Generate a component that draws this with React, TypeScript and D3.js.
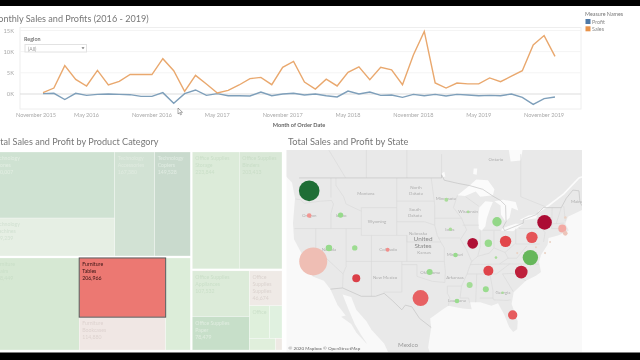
import React from "react";
import * as d3 from "d3";

const FONT = "Lato, 'Open Sans', sans-serif";
const monthIndex = d3.range(48);
const sales = [315,1400,6700,3460,1890,5590,2130,2990,4640,4600,4600,8340,5500,630,4400,2360,240,870,2130,3620,3930,2200,6300,7700,2830,1180,3500,1900,5100,6400,3400,6300,5700,2200,9200,14800,2600,1400,2600,2400,2400,3800,2900,4200,5500,11600,13800,8900];
const profit = [80,160,-1300,160,-320,-80,0,-80,-160,-550,-550,320,-2200,80,950,-320,80,-400,-400,-470,470,-400,0,160,-240,0,-400,-700,700,0,470,-320,-240,-790,-80,-400,-80,-470,-80,-240,-400,-320,-400,0,-790,-2440,-1100,-700];
const yTicks = [0,5000,10000,15000];
const xTickMonths = [-2,4,10,16,22,28,34,40,46];
const xTickLabels = ["November 2015","May 2016","November 2016","May 2017","November 2017","May 2018","November 2018","May 2019","November 2019"];
const legendNames = ["Profit","Sales"];
const legendColors = ["#4e79a7","#e8934a"];
const lineColors = ["#7e9fba","#e9a86e"];

const leafNames = ["Phones","Machines","Accessories","Copiers","Chairs","Tables","Bookcases","Furnishings","Storage","Binders","Appliances","Paper","Supplies","Art","Envelopes","Labels","Fasteners"];
const leafSales = [330007,189239,167380,149528,328449,206966,114880,91705,223844,203413,107532,78479,46674,27119,16476,12486,3024];
const leafFill = ["#cfe2d2","#e6efe4","#d2e2d4","#c9dacd","#d6e8d3","#ec7872","#f0e7e4","#dcedd9","#dcebd9","#d9e8d7","#dcebd9","#c7dfc9","#efeae6","#dff0dc","#e0f1e0","#e0efdc","#eee9e4"];
const leafInk = ["#e3eee3","#d2e1d2","#e0ebe0","#e1ece3","#c9dec7","#3a1414","#ddd2cf","#dcedd9","#cadfc8","#c9ddc7","#cadfc8","#e0ede0","#dbd3cf","#cce0ca","#e0f1e0","#e0efdc","#eee9e4"];
const leafLines = [
  ["Technology","Phones","330,007"],["Technology","Machines","189,239"],["Technology","Accessories","167,380"],["Technology","Copiers","149,528"],
  ["Furniture","Chairs","328,449"],["Furniture","Tables","206,966"],["Furniture","Bookcases","114,880"],[],
  ["Office Supplies","Storage","223,844"],["Office Supplies","Binders","203,413"],["Office Supplies","Appliances","107,532"],["Office Supplies","Paper","78,479"],
  ["Office","Supplies","Supplies","46,674"],["Office"],[],[],[],
];
const treeShape = ["h",["v",["h",["v",0,1],["h",2,3]],["h",4,["v",5,6],7]],["v",["h",8,9],["h",["v",10,11],["v",12,["h",13,14],["h",15,16]]]]];

const landOutline: number[][] = [[-130,60],[-130,50],[-127,50],[-125,48.6],[-124.7,48.4],[-124.1,46.3],[-124.5,42.8],[-124.3,40.4],[-122.5,37.8],[-120.6,34.6],[-118.4,33.9],[-117.1,32.5],[-115.7,29.8],[-114.1,28],[-115,27.8],[-113,26.5],[-112,25],[-110,23],[-109.9,23],[-111,24.5],[-112.3,26.5],[-113.5,29],[-114.7,31.6],[-113,31.2],[-112,29],[-110,27],[-109,25.5],[-106.5,23],[-105,20],[-97,20],[-97.8,22.3],[-97.2,25.9],[-97.4,27.5],[-95,29],[-93.8,29.7],[-91,29.2],[-89.2,29.1],[-89.5,30.3],[-87.5,30.3],[-85.3,29.7],[-84,30.1],[-82.8,28.2],[-81.8,26],[-81,25.1],[-80.2,25.6],[-80.1,27],[-81.3,30],[-80.9,32],[-78.5,33.9],[-76.5,34.7],[-75.5,35.3],[-75.9,36.9],[-75.5,38],[-74.2,39.6],[-74,40.6],[-72,41],[-70,41.7],[-70.7,42.7],[-70.2,43.7],[-67,44.8],[-60,44],[-60,60]];
const lakes: number[][][] = [
  [[-92,46.7],[-90.5,46.6],[-88.4,47.2],[-87.5,46.5],[-85,46.7],[-84.7,47.5],[-86,48.7],[-88.3,48.8],[-89.6,48]],
  [[-87.8,42],[-87.2,41.7],[-86.5,42.3],[-86.2,43.5],[-85.5,45],[-85,45.8],[-86.5,45.9],[-87.7,45],[-87.9,43.5]],
  [[-84.7,45.9],[-83.5,45.3],[-83.4,44],[-82.5,43],[-81.7,43.6],[-81.3,45],[-80,44.6],[-80.5,45.8],[-83,46.1]],
  [[-83.4,41.7],[-81,41.6],[-79,42.7],[-80.5,42.7],[-83,42.1]],
  [[-79.7,43.3],[-79,43.2],[-76.4,43.5],[-76.3,44.1],[-78,43.9]],
  [[-88.9,49.5],[-88.2,49.4],[-88.1,50.2],[-88.8,50.2]],
  [[-95,49.1],[-94.4,49.2],[-94.6,49.8],[-95.1,49.6]],
  [[-81.5,51.1],[-79.5,51.2],[-79,53],[-82,53]],
];
const riverLine: number[][] = [[-76,44.4],[-74,45.3],[-71,46.9],[-68,49],[-64,50]];
const borders: number[][][] = [
  [[-123.3,49],[-95.15,49],[-95.15,49.4],[-94.6,48.7],[-92,48.3],[-89.6,48],[-87,47.5],[-84.8,46.5],[-83.5,46],[-82.5,45.3],[-82.4,43],[-83,42.2],[-82.7,41.7],[-79,42.8],[-79,43.3],[-76.5,44],[-75,45],[-71.5,45],[-70.5,46.3],[-69.2,47.4],[-68,47.3],[-67.8,45.7],[-67,44.9]],
  [[-117.1,32.5],[-114.7,32.7],[-111,31.3],[-108.2,31.3],[-106.5,31.8],[-104.9,30.6],[-103,29],[-102.3,29.8],[-101,29.5],[-99.5,27.5],[-97.2,25.9]],
];
const stateLines: number[][][] = [
  [[-124,46.2],[-123,46.1],[-122.3,45.6],[-119,45.9],[-116.9,46]],[[-117,49],[-117,46.4]],[[-116.9,46],[-116.5,45.5],[-117,44.2],[-117,42]],[[-124.2,42],[-111,42]],
  [[-120,42],[-120,39],[-114.6,35]],[[-114.6,35],[-114.7,32.7]],[[-114,42],[-114,36.2],[-114.6,35]],[[-114,37],[-94.6,37]],[[-109,41],[-109,31.3]],[[-111,42],[-111,41],[-109,41]],
  [[-111,45],[-111,42]],[[-111,45],[-104,45]],[[-104,41],[-104,45]],[[-109,41],[-102,41]],[[-116,49],[-116,48],[-114.5,46.5],[-114,45.5],[-111,44.5]],[[-104,49],[-104,45]],
  [[-104,45.9],[-96.6,45.9]],[[-104,43],[-98.5,43],[-96.5,42.5]],[[-102,41],[-102,40]],[[-102,40],[-95.3,40]],[[-102,41],[-102,37]],[[-103,37],[-103,32],[-106.6,32]],
  [[-103,36.5],[-100,36.5],[-100,34.6],[-97,33.8],[-94.5,33.6]],[[-94.6,37],[-94.4,35.4],[-94.5,33.6]],[[-94,33],[-94,31.8],[-93.5,31],[-93.8,29.7]],[[-94,33],[-91.2,33]],
  [[-97.2,49],[-96.6,46],[-96.5,45.3],[-96.5,42.5]],[[-96.5,43.5],[-91.2,43.5]],[[-95.8,40.6],[-91.5,40.6]],[[-96.5,42.5],[-96,41],[-95.3,40],[-94.6,39.1],[-94.6,37]],
  [[-92.8,45],[-91.2,43.5],[-90.2,41.8],[-91.4,40.4],[-90.2,38.8],[-89.2,37],[-89.7,36],[-90.1,35],[-91.2,33],[-91.5,31],[-89.8,31],[-89.6,30.2]],
  [[-92,46.7],[-92.8,45]],[[-91,42.5],[-87.8,42.5]],[[-90.4,46.5],[-87.8,45.2]],[[-87.5,41.7],[-87.5,39.3],[-88,37.8]],
  [[-89.2,37],[-88,37.8],[-85.7,38.3],[-84.8,39.1],[-82.6,38.4],[-80.7,39.7]],[[-84.8,39.1],[-84.8,41.7]],[[-87,41.75],[-83.5,41.75]],[[-80.5,42],[-80.5,39.7]],[[-80.5,39.7],[-75.8,39.7]],
  [[-79.8,42.2],[-79.8,42],[-75.3,42],[-74.7,41.4],[-75,40]],[[-89.5,36.5],[-81.7,36.6],[-75.9,36.55]],[[-82,37.5],[-80.3,37.5],[-78.3,39.4]],[[-82.6,38.4],[-82,37.5],[-83.7,36.6]],
  [[-90.1,35],[-84.3,35]],[[-84.3,35],[-81.7,36.6]],[[-83.1,35],[-81,35.1],[-78.5,33.9]],[[-83.1,35],[-81,32.1]],[[-85.6,35],[-85,32.3],[-85,30.9]],[[-88.2,35],[-88.4,30.3]],
  [[-87.6,31],[-85,31],[-84.8,30.7],[-82.2,30.6],[-81.5,30.7]],[[-71.5,45],[-72.5,42.7]],[[-73.3,45],[-73.4,42]],[[-73.4,42],[-71.8,42],[-71.2,41.5]],[[-73.3,42.7],[-71,42.8]],[[-71,45.2],[-70.7,43.1]],
  [[-95.15,49],[-95.15,52]],[[-102,49],[-102,55]],[[-110,49],[-110,55]],[[-114.1,49],[-120,55]],[[-79.5,52],[-79.5,46.5],[-74.5,45.1]],
];
const mapLabelText = ["Ontario","Montana","North","Dakota","South","Dakota","Wyoming","Nebraska","Kansas","New Mexico","Arkansas","Minnesota","Wisconsin","Iowa","Missouri","Oklahoma","Georgia","Louisiana","Colorado","Nevada","Idaho","Oregon","Maine"];
const mapLabelLon = [-84.4,-110.1,-100.2,-100.2,-100.4,-100.4,-107.9,-99.8,-98.6,-106.3,-92.5,-94.3,-89.9,-93.5,-92.5,-97.4,-83,-92.1,-105.7,-117.4,-115,-121.3,-68.4];
const mapLabelLat = [51.1,46.7,47.5,46.7,44.5,43.7,42.8,41.1,38.1,34.1,34.1,46,44.3,41.6,37.9,35,31.7,30.3,38.6,38.7,43.7,43.7,45.6];
const bubbleStates = ["WA","OR","ID","CA","NV","UT","CO","AZ","TX","MN","WI","IA","MO","OK","IL","IN","MI","OH","PA","NY","KY","VA","NC","TN","MS","AL","GA","LA","FL","MA","RI","VT","WV","MD","DE","NJ"];
const bubbleLon = [-121.3,-121.3,-115.1,-120.5,-117.4,-112.3,-105.8,-112,-99.3,-94.2,-89.9,-93.4,-92.4,-97.5,-89,-85.9,-84.2,-82.5,-77.3,-74.8,-84.4,-77.6,-79.4,-85.9,-89.6,-86.4,-83.1,-92.1,-81.1,-71.3,-70.7,-70.7,-80.2,-76.5,-74.7,-73.7];
const bubbleLat = [47.3,43.9,43.95,37,39.1,39.1,38.8,34.3,31,46.1,44.4,41.9,38,35.3,39.8,39.8,43,40.1,40.7,42.9,37.6,37.6,35.3,35.5,33.2,32.5,31.9,30.5,28.1,42,41.3,43.6,38.3,39.2,38.3,40];
const bubbleSales = [247000,12500,17000,457000,25000,17000,9300,37000,149000,9300,4000,6700,12500,21000,66000,32000,51000,76000,76000,124000,4000,138000,93000,58000,21000,21000,4000,12500,51000,37000,12500,4000,2500,2500,2500,2500];
const bubbleRatio = [1,-.3,.27,-.13,.27,.24,-.33,-.65,-.5,.2,.2,.2,.27,.27,-.95,.27,.3,-.6,-.55,-.97,.2,.6,-.85,-.62,.22,.25,.2,.25,-.52,-.22,-.1,-.04,-.04,-.04,-.04,-.04];

const x = d3.scaleLinear().domain([0,47]).range([43,555]);
const y = d3.scaleLinear().domain([0,15000]).range([94,30.5]);
const lineGen = d3.line<number>().x((_,i)=>x(monthIndex[i])).y(d=>y(d));

const projection = d3.geoMercator().center([-100,40]).scale(290).translate([417,242]);
const pt = (c:number[]) => projection(c as [number,number]) as [number,number];
const poly = (pts:number[][], close=false) => (close?d3.line().curve(d3.curveLinearClosed):d3.line())(pts.map(pt)) as string;
const radius = d3.scaleSqrt().domain([0,457000]).range([0,14]);
const ratioColor = d3.scaleLinear<string>().domain([-1,-.6,-.25,0,.25,.6,1]).range(["#a80732","#e2474b","#f5a39e","#e8dccc","#9adc8f","#66b75b","#1f6e36"]);

const build = (n:any):any => typeof n==="number" ? {leaf:n,value:leafSales[n]} : {dir:n[0],children:n.slice(1).map(build)};
const root = d3.hierarchy(build(treeShape)).sum((d:any)=>d.value||0);
const tile = (node:any,x0:number,y0:number,x1:number,y1:number)=> (node.data.dir==="h"?d3.treemapDice:d3.treemapSlice)(node,x0,y0,x1,y1);
d3.treemap<any>().tile(tile as any).size([291,198]).paddingInner((n:any)=>n.depth<=1?2:0)(root as any);
const leaves:any[] = root.leaves();

export default function App(){
  const tableLeaf = leaves.find(l=>leafNames[l.data.leaf]==="Tables");
  return (
    <svg width={640} height={360} style={{position:"fixed",left:0,top:0,background:"#fff",filter:"blur(0.55px)",fontFamily:FONT}}>
      <text x={-10} y={21.5} fontSize={9.1} fill="#777">Monthly Sales and Profits (2016 - 2019)</text>
      <rect x={20} y={27.5} width={561} height={81.5} fill="none" stroke="#eee"/>
      {yTicks.map(t=>(
        <g key={t}>
          <line x1={20} x2={581} y1={y(t)} y2={y(t)} stroke={t===0?"#ddd":"#f4f4f4"}/>
          <text x={14} y={y(t)+2} fontSize={5.8} fill="#aaa" textAnchor="end">{t/1000}K</text>
        </g>
      ))}
      <path d={lineGen(profit) as string} fill="none" stroke={lineColors[0]} strokeWidth={1.4}/>
      <path d={lineGen(sales) as string} fill="none" stroke={lineColors[1]} strokeWidth={1.4}/>
      {xTickMonths.map((m,i)=>(
        <text key={m} x={Math.max(x(m),36)} y={117} fontSize={5.6} fill="#aaa" textAnchor="middle">{xTickLabels[i]}</text>
      ))}
      <text x={299} y={126.5} fontSize={5.6} fontWeight={700} fill="#666" textAnchor="middle">Month of Order Date</text>
      <text x={24} y={41} fontSize={5.4} fontWeight={700} fill="#777">Region</text>
      <rect x={25} y={44.5} width={61.5} height={7.5} fill="#fff" stroke="#e2e2e2"/>
      <text x={28} y={50.5} fontSize={5} fill="#999">(All)</text>
      <path d="M81.5 47.3h3l-1.5 2z" fill="#777"/>
      <path d="M178 108l0 6 1.5-1.3 1 2.2 1-.5-1-2.1 2 0z" fill="#fff" stroke="#555" strokeWidth={0.5}/>
      <text x={585} y={16} fontSize={5.4} fill="#777">Measure Names</text>
      {legendNames.map((n,i)=>(
        <g key={n}>
          <rect x={585.5} y={19+i*7.3} width={5} height={5} fill={legendColors[i]}/>
          <text x={592} y={23.6+i*7.3} fontSize={5.4} fill="#888">{n}</text>
        </g>
      ))}

      <text x={-9} y={144.5} fontSize={9.1} fill="#777">Total Sales and Profit by Product Category</text>
      <g transform="translate(-9,152)">
        {leaves.map(l=>{
          const k=l.data.leaf;
          return <g key={k}>
            <rect x={l.x0} y={l.y0} width={l.x1-l.x0} height={l.y1-l.y0} fill={leafFill[k]} stroke="#fff" strokeOpacity={0.55} strokeWidth={0.5}/>
            {leafLines[k].map((s,j)=><text key={j} x={l.x0+3} y={l.y0+8+j*7} fontSize={5.2} fill={leafInk[k]}>{s}</text>)}
          </g>;
        })}
        <rect x={tableLeaf.x0} y={tableLeaf.y0} width={tableLeaf.x1-tableLeaf.x0} height={tableLeaf.y1-tableLeaf.y0} fill="none" stroke="#555" strokeWidth={1}/>
      </g>

      <text x={288} y={144.5} fontSize={9.3} fill="#777">Total Sales and Profit by State</text>
      <clipPath id="mapclip"><rect x={286.5} y={150} width={295.5} height={202}/></clipPath>
      <g clipPath="url(#mapclip)">
        <rect x={286} y={150} width={297} height={202} fill="#f9f9f9"/>
        <path d={poly(landOutline,true)} fill="#e9e9e9"/>
        {lakes.map((p,i)=><path key={i} d={poly(p,true)} fill="#fbfbfb"/>)}
        <path d={poly(riverLine)} fill="none" stroke="#fbfbfb" strokeWidth={1.6}/>
        {stateLines.map((p,i)=><path key={i} d={poly(p)} fill="none" stroke="#d8d8d8" strokeWidth={0.6}/>)}
        {borders.map((p,i)=><path key={i} d={poly(p)} fill="none" stroke="#c4c4c4" strokeWidth={0.7}/>)}
        {mapLabelText.map((t,i)=>{const p=pt([mapLabelLon[i],mapLabelLat[i]]);return <text key={i} x={p[0]} y={p[1]} fontSize={4.4} fill="#aeaeae" textAnchor="middle">{t}</text>;})}
        <text x={423} y={241} fontSize={6.4} fill="#8a8a8a" textAnchor="middle">United</text>
        <text x={423} y={247.5} fontSize={6.4} fill="#8a8a8a" textAnchor="middle">States</text>
        <text x={408} y={347} fontSize={6.2} fill="#999" textAnchor="middle">Mexico</text>
        {bubbleStates.map((s,i)=>{const p=pt([bubbleLon[i],bubbleLat[i]]);return <circle key={s} cx={p[0]} cy={p[1]} r={radius(bubbleSales[i])} fill={ratioColor(bubbleRatio[i])}/>;})}
        <text x={288.5} y={350} fontSize={4.6} fill="#666">© 2020 Mapbox © OpenStreetMap</text>
      </g>
      <rect x={0} y={0} width={640} height={6} fill="#000"/>
      <rect x={0} y={352.5} width={640} height={8} fill="#000"/>
    </svg>
  );
}
